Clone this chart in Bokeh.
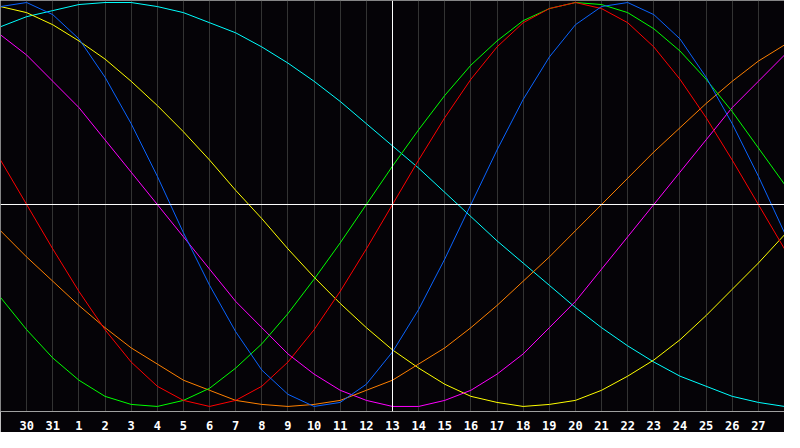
from bokeh.plotting import figure
from bokeh.models import Range1d, FixedTicker, Span, ColumnDataSource
from bokeh.embed import file_html
from bokeh.resources import INLINE

# Day labels (index 0 .. 30)
day_labels = ["29", "30", "31", "1", "2", "3", "4", "5", "6", "7", "8", "9", "10",
              "11", "12", "13", "14", "15", "16", "17", "18", "19", "20", "21",
              "22", "23", "24", "25", "26", "27", "28"]
day_index = list(range(len(day_labels)))
label_ticks = list(range(1, 30))
today_index = 15

# Cycle values per day
blue = [0.98, 1.00, 0.94, 0.82, 0.63, 0.40, 0.14, -0.14, -0.40, -0.63, -0.82,
        -0.94, -1.00, -0.98, -0.89, -0.73, -0.52, -0.27, 0.00, 0.27, 0.52,
        0.73, 0.89, 0.98, 1.00, 0.94, 0.82, 0.63, 0.40, 0.14, -0.14]
red = [0.22, 0.00, -0.22, -0.43, -0.62, -0.78, -0.90, -0.97, -1.00, -0.97, -0.90,
       -0.78, -0.62, -0.43, -0.22, 0.00, 0.22, 0.43, 0.62, 0.78, 0.90,
       0.97, 1.00, 0.97, 0.90, 0.78, 0.62, 0.43, 0.22, 0.00, -0.22]
green = [-0.46, -0.62, -0.76, -0.87, -0.95, -0.99, -1.00, -0.97, -0.91, -0.81, -0.69,
         -0.54, -0.37, -0.19, 0.00, 0.19, 0.37, 0.54, 0.69, 0.81, 0.91,
         0.97, 1.00, 0.99, 0.95, 0.87, 0.76, 0.62, 0.46, 0.28, 0.10]
magenta = [0.84, 0.74, 0.61, 0.48, 0.32, 0.16, 0.00, -0.16, -0.32, -0.48, -0.61,
           -0.74, -0.84, -0.92, -0.97, -1.00, -1.00, -0.97, -0.92, -0.84, -0.74,
           -0.61, -0.48, -0.32, -0.16, 0.00, 0.16, 0.32, 0.48, 0.61, 0.74]
yellow = [0.98, 0.95, 0.89, 0.81, 0.72, 0.61, 0.49, 0.36, 0.22, 0.07, -0.07,
          -0.22, -0.36, -0.49, -0.61, -0.72, -0.81, -0.89, -0.95, -0.98, -1.00,
          -0.99, -0.97, -0.92, -0.85, -0.77, -0.67, -0.55, -0.42, -0.29, -0.15]
orange = [-0.13, -0.26, -0.38, -0.50, -0.61, -0.71, -0.79, -0.87, -0.92, -0.97, -0.99,
          -1.00, -0.99, -0.97, -0.92, -0.87, -0.79, -0.71, -0.61, -0.50, -0.38,
          -0.26, -0.13, 0.00, 0.13, 0.26, 0.38, 0.50, 0.61, 0.71, 0.79]
cyan = [0.88, 0.93, 0.96, 0.99, 1.00, 1.00, 0.98, 0.95, 0.90, 0.85, 0.78,
        0.70, 0.61, 0.51, 0.40, 0.29, 0.18, 0.06, -0.06, -0.18, -0.29,
        -0.40, -0.51, -0.61, -0.70, -0.78, -0.85, -0.90, -0.95, -0.98, -1.00]

series = [
    ("cyan", cyan, "#00ffff"),
    ("yellow", yellow, "#ffff00"),
    ("magenta", magenta, "#ff00ff"),
    ("orange", orange, "#ff8000"),
    ("green", green, "#00ff00"),
    ("red", red, "#ff0000"),
    ("blue", blue, "#0a64ff"),
]

BG = "#050307"
Y0, Y1 = -1.025, 1.01

p = figure(width=784, height=432,
           x_range=Range1d(0, 30), y_range=Range1d(Y0, Y1),
           output_backend="svg", toolbar_location=None,
           y_axis_location=None,
           min_border_left=0, min_border_right=0,
           min_border_top=0, min_border_bottom=0,
           background_fill_color=BG, border_fill_color=BG,
           outline_line_color=None)

p.xgrid.ticker = FixedTicker(ticks=label_ticks)
p.xgrid.grid_line_color = "#333333"
p.xgrid.grid_line_width = 1
p.ygrid.visible = False

ax = p.xaxis[0]
ax.ticker = FixedTicker(ticks=label_ticks)
ax.major_label_overrides = {i: day_labels[i] for i in day_index}
ax.axis_line_color = "#a0a0a0"
ax.axis_line_width = 1
ax.major_tick_line_color = None
ax.minor_tick_line_color = None
ax.major_label_text_color = "white"
ax.major_label_text_font = "DejaVu Sans Mono"
ax.major_label_text_font_style = "bold"
ax.major_label_text_font_size = "12px"
ax.major_label_standoff = 3

# frame borders (left, top)
p.add_layout(Span(location=0, dimension="height", line_color="#8a8a8a", line_width=1))
p.add_layout(Span(location=Y1, dimension="width", line_color="#8a8a8a", line_width=1))
# today / zero lines
p.add_layout(Span(location=today_index, dimension="height", line_color="white", line_width=1))
p.add_layout(Span(location=0, dimension="width", line_color="white", line_width=1))

for name, vals, color in series:
    src = ColumnDataSource(dict(x=day_index, y=vals))
    p.line("x", "y", source=src, line_color=color, line_width=1)

open("out.html", "w").write(file_html(p, INLINE))
